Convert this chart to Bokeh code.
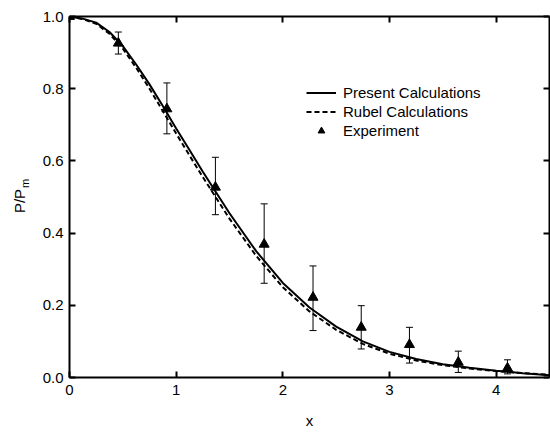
from math import pi
from bokeh.plotting import figure
from bokeh.models import (Range1d, LinearAxis, FixedTicker, Whisker, TeeHead,
                          ColumnDataSource, Legend, LegendItem, Label)
from bokeh.embed import file_html
from bokeh.resources import INLINE

# ---- data ----
x_curve = [0.0, 0.125, 0.25, 0.375, 0.5, 0.625, 0.75, 0.875, 1.0, 1.125, 1.25, 1.5, 1.75,
           2.0, 2.25, 2.5, 2.75, 3.0, 3.25, 3.5, 3.75, 4.0, 4.25, 4.5]
present = [1.0, 0.994, 0.983, 0.957, 0.918, 0.867, 0.812, 0.752, 0.690, 0.630, 0.570, 0.455, 0.350,
           0.262, 0.194, 0.141, 0.100, 0.071, 0.051, 0.037, 0.027, 0.019, 0.012, 0.006]
rubel = [1.0, 0.993, 0.980, 0.952, 0.911, 0.858, 0.800, 0.738, 0.676, 0.615, 0.555, 0.440, 0.337,
         0.250, 0.183, 0.132, 0.093, 0.066, 0.047, 0.034, 0.025, 0.018, 0.012, 0.008]

x_exp = [0.0, 0.458, 0.913, 1.368, 1.825, 2.283, 2.735, 3.187, 3.645, 4.106]
y_exp = [1.0, 0.926, 0.744, 0.527, 0.369, 0.222, 0.139, 0.091, 0.042, 0.026]

x_err = [0.458, 0.913, 1.368, 1.825, 2.283, 2.735, 3.187, 3.645, 4.106]
err_upper = [0.957, 0.816, 0.610, 0.481, 0.309, 0.199, 0.139, 0.073, 0.049]
err_lower = [0.896, 0.675, 0.451, 0.261, 0.130, 0.079, 0.040, 0.014, 0.010]

x_ticks = [0, 1, 2, 3, 4]
y_ticks = [0.0, 0.2, 0.4, 0.6, 0.8, 1.0]

FONT = "Liberation Sans"
FS = "15px"

p = figure(width=550, height=432, x_range=Range1d(0, 4.5), y_range=Range1d(0, 1.0),
           output_backend="svg", toolbar_location=None,
           min_border_left=69, min_border_right=1, min_border_top=16, min_border_bottom=55)
p.xgrid.visible = False
p.ygrid.visible = False
p.outline_line_color = None
p.background_fill_color = "white"
p.border_fill_color = "white"

def style_axis(ax, ticks, show_labels):
    ax.ticker = FixedTicker(ticks=ticks)
    ax.axis_line_width = 2
    ax.axis_line_color = "black"
    ax.major_tick_line_width = 2
    ax.major_tick_line_color = "black"
    ax.major_tick_in = 6
    ax.major_tick_out = 0
    ax.minor_tick_line_color = None
    ax.major_label_text_font = FONT
    if show_labels:
        ax.major_label_text_font_size = FS
        ax.major_label_text_color = "black"
    else:
        ax.major_label_text_font_size = "1px"
        ax.major_label_text_color = None
        ax.major_label_standoff = 0

xa = p.xaxis[0]
ya = p.yaxis[0]
style_axis(xa, x_ticks, True)
style_axis(ya, y_ticks, True)
xa.major_label_standoff = 7
ya.major_label_standoff = 6
xa.major_label_overrides = {0: "0", 1: "1", 2: "2", 3: "3", 4: "4"}
ya.major_label_overrides = {0: "0.0", 0.2: "0.2", 0.4: "0.4", 0.6: "0.6", 0.8: "0.8", 1: "1.0"}
xa.axis_label = "x"
xa.axis_label_text_font = FONT
xa.axis_label_text_font_size = FS
xa.axis_label_text_font_style = "normal"
xa.axis_label_text_color = "black"
xa.axis_label_standoff = 14

top = LinearAxis()
right = LinearAxis()
style_axis(top, x_ticks, False)
style_axis(right, y_ticks, False)
p.add_layout(top, "above")
p.add_layout(right, "right")

# y-axis label P/P_m as real text, in a side panel (not clipped), positioned in data units
PX_X = 4.5 / 480.0
PX_Y = 1.0 / 361.0
lbl_p = Label(x=-50.5 * PX_X, y=176.5 * PX_Y, text="P/P",
              angle=pi / 2, text_align="center", text_baseline="alphabetic",
              text_font=FONT, text_font_size=FS, text_color="black")
lbl_m = Label(x=-45.0 * PX_X, y=189.5 * PX_Y, text="m",
              angle=pi / 2, text_align="left", text_baseline="alphabetic",
              text_font=FONT, text_font_size="11px", text_color="black")
p.add_layout(lbl_p, "left")
p.add_layout(lbl_m, "left")

curves = ColumnDataSource(dict(x=x_curve, present=present, rubel=rubel))
r_rubel = p.line("x", "rubel", source=curves, line_color="black", line_width=2, line_dash="5 3")
r_present = p.line("x", "present", source=curves, line_color="black", line_width=2)

err = ColumnDataSource(dict(x=x_err, upper=err_upper, lower=err_lower))
p.add_layout(Whisker(source=err, base="x", upper="upper", lower="lower",
                     line_color="black", line_width=1,
                     upper_head=TeeHead(size=7, line_color="black", line_width=1),
                     lower_head=TeeHead(size=7, line_color="black", line_width=1)))

exp = ColumnDataSource(dict(x=x_exp, y=y_exp))
r_exp = p.scatter("x", "y", source=exp, marker="triangle", size=10,
                  fill_color="black", line_color="black")

legend = Legend(items=[LegendItem(label="Present Calculations", renderers=[r_present]),
                       LegendItem(label="Rubel Calculations", renderers=[r_rubel]),
                       LegendItem(label="Experiment", renderers=[r_exp])],
                location=(237, 238), padding=0, margin=0, spacing=2,
                glyph_width=30, glyph_height=17, label_height=17, label_standoff=7,
                border_line_color=None, background_fill_alpha=0,
                label_text_font=FONT, label_text_font_size=FS, label_text_color="black")
p.add_layout(legend)

open("out.html", "w").write(file_html(p, INLINE))
